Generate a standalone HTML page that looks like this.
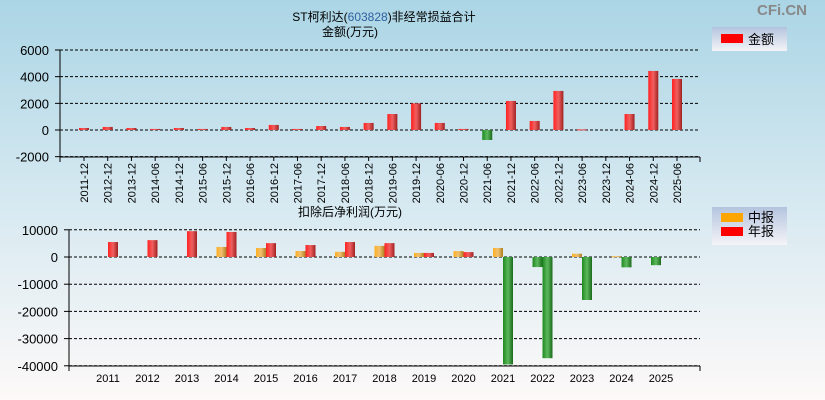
<!DOCTYPE html>
<html><head><meta charset="utf-8"><style>
body{margin:0;width:825px;height:400px;overflow:hidden}
svg{display:block;font-family:"Liberation Sans","Noto Sans CJK SC",sans-serif}
</style></head><body>
<svg id="c" width="825" height="400">
<defs>
<linearGradient id="bg" x1="0" y1="0" x2="0" y2="1"><stop offset="0" stop-color="#abd5e5"/><stop offset="0.5" stop-color="#d6e9f1"/><stop offset="1" stop-color="#fdf9f8"/></linearGradient>
<linearGradient id="gr" x1="0" x2="1"><stop offset="0" stop-color="#ff2020"/><stop offset="0.5" stop-color="#f06060"/><stop offset="1" stop-color="#a02020"/></linearGradient>
<linearGradient id="gg" x1="0" x2="1"><stop offset="0" stop-color="#1f8a1f"/><stop offset="0.5" stop-color="#5cb85c"/><stop offset="1" stop-color="#1a6a1a"/></linearGradient>
<linearGradient id="go" x1="0" x2="1"><stop offset="0" stop-color="#ffb020"/><stop offset="0.5" stop-color="#f0c070"/><stop offset="1" stop-color="#b08020"/></linearGradient>
<linearGradient id="lg" x1="0" y1="0" x2="0" y2="1"><stop offset="0" stop-color="#b4c4de"/><stop offset="1" stop-color="#f4f4f8"/></linearGradient>
</defs>
<rect width="825" height="400" fill="url(#bg)"/>
<text x="807" y="15" font-size="15" font-weight="bold" fill="#888" text-anchor="end">CFi.CN</text>
<text x="384" y="21" font-size="12" text-anchor="middle">ST柯利达(<tspan fill="#3060a0">603828</tspan>)非经常损益合计</text>
<text x="322" y="36" font-size="12">金额(万元)</text>
<text x="298" y="216" font-size="12">扣除后净利润(万元)</text>
<g>
<rect x="712" y="27" width="75" height="24" fill="url(#lg)"/>
<rect x="721" y="34" width="22" height="9" fill="#f00"/>
<text x="748" y="44" font-size="13">金额</text></g>
<g>
<rect x="712" y="207" width="75" height="38" fill="url(#lg)"/>
<rect x="721" y="213" width="22" height="9" fill="#ffa500"/>
<text x="748" y="222" font-size="13">中报</text>
<rect x="721" y="227" width="22" height="9" fill="#f00"/>
<text x="748" y="236" font-size="13">年报</text></g>
<g id="top"></g><g id="bot"></g>
</svg>
<script>
const topCats=["2011-12","2012-12","2013-12","2014-06","2014-12","2015-06","2015-12","2016-06","2016-12","2017-06","2017-12","2018-06","2018-12","2019-06","2019-12","2020-06","2020-12","2021-06","2021-12","2022-06","2022-12","2023-06","2023-12","2024-06","2024-12","2025-06"];
const topVals=[150,230,150,80,150,80,230,150,380,80,300,230,530,1200,2000,530,80,-750,2180,680,2930,50,0,1200,4430,3830];
const topTicks=[6000,4000,2000,0,-2000];
const years=["2011","2012","2013","2014","2015","2016","2017","2018","2019","2020","2021","2022","2023","2024","2025"];
const midVals=[null,null,null,3700,3300,2200,1900,4100,1500,2200,3300,-3700,1200,300,-3000];
const annVals=[5500,6200,9500,9200,5100,4400,5500,5100,1500,1800,-39500,-37200,-15800,-3800,null];
const botTicks=[10000,0,-10000,-20000,-30000,-40000];
const NS="http://www.w3.org/2000/svg";
function mk(p,t,a){const e=document.createElementNS(NS,t);for(const k in a)e.setAttribute(k,a[k]);p.appendChild(e);return e;}
// top chart
const T=document.getElementById('top');
const ty=v=>130-v*80/6000;
const tx=i=>84+i*(677-84)/(topCats.length-1);
topTicks.forEach(t=>{
 const l=mk(T,'line',{x1:60,x2:700,y1:ty(t),y2:ty(t),stroke:'#000','stroke-dasharray':'3,2'});
 
 
 const tx_=mk(T,'text',{x:49,y:ty(t)+5,'font-size':13,'text-anchor':'end'});tx_.textContent=t;
 
 
 mk(T,'line',{x1:55,x2:60,y1:ty(t),y2:ty(t),stroke:'#000'});
});
mk(T,'line',{x1:60,x2:60,y1:50,y2:157,stroke:'#000'});
mk(T,'line',{x1:60,x2:700,y1:157,y2:157,stroke:'#000'});
mk(T,'line',{x1:700,x2:700,y1:157,y2:162,stroke:'#000'});
mk(T,'line',{x1:60,x2:60,y1:157,y2:162,stroke:'#000'});
topCats.forEach((c,i)=>{
 const x=tx(i),v=topVals[i];
 mk(T,'line',{x1:x,x2:x,y1:157,y2:161,stroke:'#000'});
 if(v!==0){const y0=ty(Math.max(v,0)),h=Math.abs(ty(v)-ty(0));
 const r=mk(T,'rect',{x:x-5,y:y0,width:10,height:Math.max(h,1),fill:v<0?'url(#gg)':'url(#gr)'});
 
 }
 const t=mk(T,'text',{x:0,y:0,'font-size':11,'text-anchor':'end',transform:`translate(${x+4},163) rotate(-90)`});t.textContent=c;
 
 
});
// bottom chart
const B=document.getElementById('bot');
const by=v=>257-v*27.2/10000;
const bx=i=>108+i*(661-108)/(years.length-1);
botTicks.forEach(t=>{
 const l=mk(B,'line',{x1:69,x2:700,y1:by(t),y2:by(t),stroke:'#000','stroke-dasharray':'3,2'});
 
 
 const tt=mk(B,'text',{x:58,y:by(t)+5,'font-size':13,'text-anchor':'end'});tt.textContent=t;
 
 
 mk(B,'line',{x1:64,x2:69,y1:by(t),y2:by(t),stroke:'#000'});
});
mk(B,'line',{x1:69,x2:69,y1:230,y2:366,stroke:'#000'});
mk(B,'line',{x1:69,x2:700,y1:366,y2:366,stroke:'#000'});
mk(B,'line',{x1:69,x2:69,y1:366,y2:371,stroke:'#000'});
mk(B,'line',{x1:700,x2:700,y1:366,y2:371,stroke:'#000'});
function bar(v,x,pos,name){
 if(v===null)return;
 const y0=by(Math.max(v,0)),h=Math.abs(by(v)-by(0));
 const r=mk(B,'rect',{x:x,y:y0,width:10,height:Math.max(h,1),fill:v<0?'url(#gg)':(pos?'url(#gr)':'url(#go)')});
 
 
}
years.forEach((yv,i)=>{
 const x=bx(i);
 bar(midVals[i],x-10,false,'interim-bar-'+yv);
 bar(annVals[i],x,true,'annual-bar-'+yv);
 const t=mk(B,'text',{x:x,y:382,'font-size':11,'text-anchor':'middle'});t.textContent=yv;
 
 
});
</script>
</body></html>
